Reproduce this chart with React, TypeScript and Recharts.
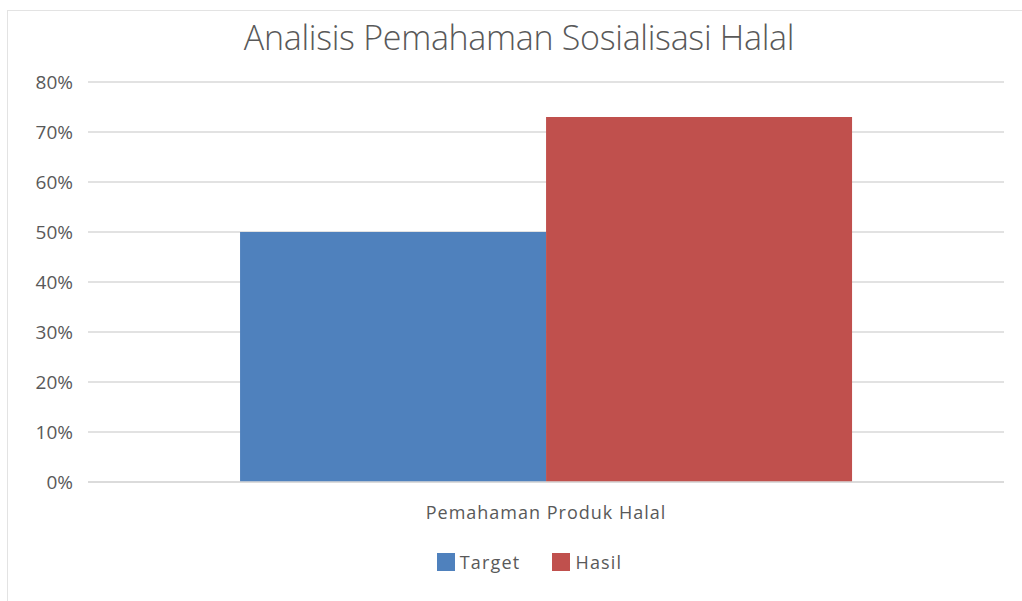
import { BarChart, Bar, XAxis, YAxis, CartesianGrid, Legend } from "recharts";

const CATEGORIES = ["Pemahaman Produk Halal"];
const SERIES = ["Target", "Hasil"];
const TARGET = [50];
const HASIL = [73];
const Y_TICKS = [0, 10, 20, 30, 40, 50, 60, 70, 80];

const TITLE = "Analisis Pemahaman Sosialisasi Halal";
const FONT = "'Open Sans', sans-serif";
const TEXT = "#595959";
const GRID = "#D9D9D9";
const BLUE = "#4F81BD";
const RED = "#C0504D";

const data = CATEGORIES.map((name, i) => ({ name, Target: TARGET[i], Hasil: HASIL[i] }));

function LegendContent(props: any) {
  const items = [...(props.payload || [])].sort(
    (a: any, b: any) => SERIES.indexOf(a.value) - SERIES.indexOf(b.value)
  );
  return (
    <div style={{ display: "flex", justifyContent: "center", alignItems: "center", gap: 32, fontFamily: FONT, fontSize: 18, color: TEXT, letterSpacing: 1.2, paddingLeft: 27 }}>
      {items.map((it: any) => (
        <div key={it.value} style={{ display: "flex", alignItems: "center", gap: 5 }}>
          <div style={{ width: 18, height: 18, background: it.color }} />
          <span>{it.value}</span>
        </div>
      ))}
    </div>
  );
}

export default function App() {
  return (
    <div style={{ position: "absolute", left: 0, top: 0, width: 1022, height: 601, background: "#fff", overflow: "hidden" }}>
      <div style={{ position: "absolute", left: 7, top: 10, width: 1030, height: 620, border: "1px solid #E3E3E3" }} />
      <div style={{ position: "absolute", left: 0, top: 14, width: 1038, textAlign: "center", fontFamily: FONT, fontSize: 34, color: TEXT, fontWeight: 300, letterSpacing: -0.3 }}>
        {TITLE}
      </div>
      <div style={{ position: "absolute", left: 0, top: 0 }}>
        <BarChart width={1022} height={601} data={data} margin={{ top: 82, right: 18, left: 28, bottom: 15 }} barCategoryGap="16.6%" barGap={0}>
          <CartesianGrid vertical={false} stroke={GRID} strokeWidth={1.5} />
          <XAxis
            dataKey="name"
            height={68}
            axisLine={{ stroke: GRID, strokeWidth: 1.5 }}
            tickLine={false}
            tickSize={0}
            tickMargin={24}
            tick={{ fill: TEXT, fontSize: 18, fontFamily: FONT, letterSpacing: 1 }}
          />
          <YAxis
            width={60}
            domain={[0, 80]}
            ticks={Y_TICKS}
            interval={0}
            tickFormatter={(v: number) => `${v}%`}
            axisLine={false}
            tickLine={false}
            tickSize={0}
            tickMargin={15}
            tick={{ fill: TEXT, fontSize: 19, fontFamily: FONT }}
          />
          <Legend verticalAlign="bottom" height={36} content={LegendContent} />
          <Bar dataKey="Target" fill={BLUE} isAnimationActive={false} />
          <Bar dataKey="Hasil" fill={RED} isAnimationActive={false} />
        </BarChart>
      </div>
    </div>
  );
}
